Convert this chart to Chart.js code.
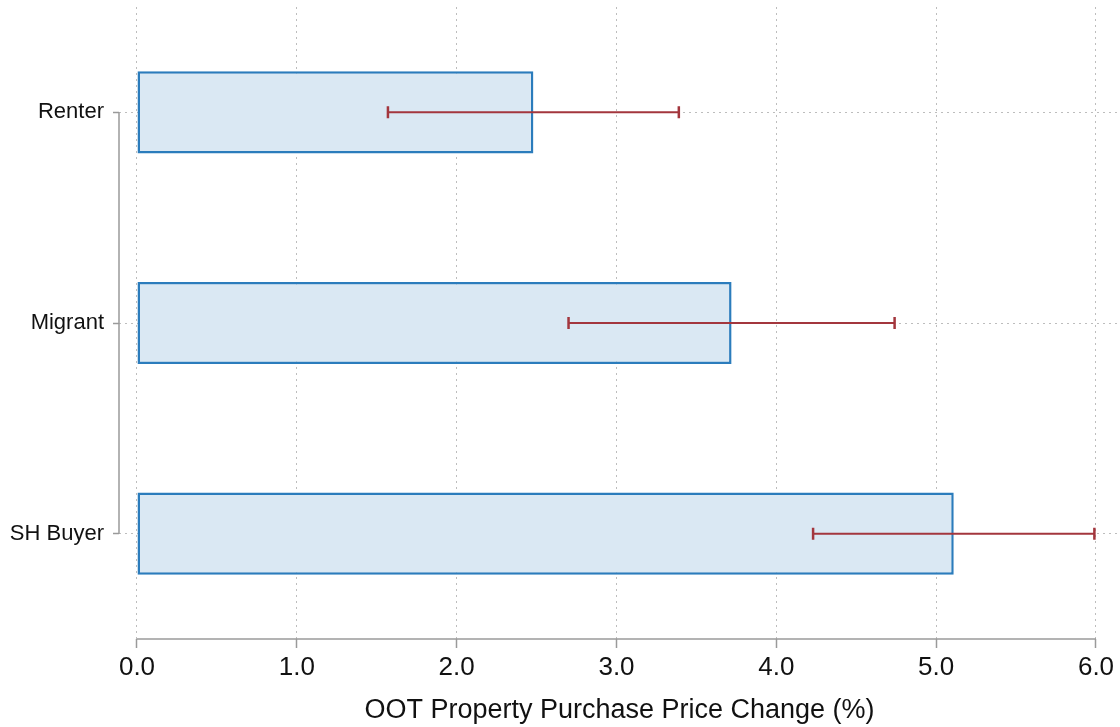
<!DOCTYPE html>
<html lang="en">
<head>
  <meta charset="UTF-8" />
  <title>OOT Property Purchase Price Change</title>
  <script src="https://cdn.jsdelivr.net/npm/chart.js"></script>
  <style>
    html, body { margin: 0; padding: 0; background: #fff; }
    #wrap { width: 1120px; height: 727px; position: relative; }
  </style>
</head>
<body>
  <div id="wrap"><canvas id="chart"></canvas></div>

  <script>
    // Data
    const categories = ['Renter', 'Migrant', 'SH Buyer'];
    const estimates = [2.48, 3.72, 5.11];
    const ciLow = [1.57, 2.70, 4.23];
    const ciHigh = [3.39, 4.74, 5.99];
    const xTicks = [0, 1, 2, 3, 4, 5, 6];
    const xTitle = 'OOT Property Purchase Price Change (%)';

    const FONT = '"Liberation Sans", Arial, Helvetica, sans-serif';
    const axisGrey = '#9a9a9a';

    // whiskers for the confidence intervals
    const errorBars = {
      id: 'errorBars',
      afterDatasetsDraw(chart) {
        const { ctx, scales: { x, y } } = chart;
        ctx.save();
        ctx.strokeStyle = '#a3363d';
        categories.forEach((c, i) => {
          const py = y.getPixelForValue(i);
          const x1 = x.getPixelForValue(ciLow[i]);
          const x2 = x.getPixelForValue(ciHigh[i]);
          ctx.lineWidth = 2;
          ctx.beginPath();
          ctx.moveTo(x1, py); ctx.lineTo(x2, py);
          ctx.stroke();
          ctx.lineWidth = 2.5;
          ctx.beginPath();
          ctx.moveTo(x1, py - 6); ctx.lineTo(x1, py + 6);
          ctx.moveTo(x2, py - 6); ctx.lineTo(x2, py + 6);
          ctx.stroke();
        });
        ctx.restore();
      }
    };

    // Stata-style axis lines that only span the tick range
    const axisLines = {
      id: 'axisLines',
      afterDraw(chart) {
        const { ctx, chartArea, scales: { x, y } } = chart;
        ctx.save();
        ctx.strokeStyle = axisGrey;
        ctx.lineWidth = 1.5;
        ctx.beginPath();
        ctx.moveTo(chartArea.left, y.getPixelForValue(0));
        ctx.lineTo(chartArea.left, y.getPixelForValue(categories.length - 1));
        ctx.moveTo(x.getPixelForValue(xTicks[0]), chartArea.bottom);
        ctx.lineTo(x.getPixelForValue(xTicks[xTicks.length - 1]), chartArea.bottom);
        ctx.stroke();
        ctx.restore();
      }
    };

    new Chart(document.getElementById('chart'), {
      type: 'bar',
      data: {
        labels: categories,
        datasets: [{
          data: estimates,
          backgroundColor: '#dae8f3',
          borderColor: '#2b7cbc',
          borderWidth: 2.5,
          borderSkipped: false,
          barPercentage: 0.39,
          categoryPercentage: 1
        }]
      },
      options: {
        indexAxis: 'y',
        responsive: true,
        maintainAspectRatio: false,
        animation: false,
        layout: { padding: { top: 7, right: 0, bottom: 0, left: 0 } },
        plugins: {
          legend: { display: false },
          tooltip: { enabled: false }
        },
        scales: {
          x: {
            type: 'linear',
            min: -0.1126,
            max: 6.1502,
            afterBuildTicks: (scale) => { scale.ticks = xTicks.map(v => ({ value: v })); },
            afterFit: (scale) => { scale.height = 88; },
            ticks: {
              autoSkip: false,
              padding: 4,
              color: '#111',
              font: { family: FONT, size: 26 },
              callback: (v) => Number(v).toFixed(1)
            },
            grid: {
              color: '#bdbdbd',
              lineWidth: 1,
              tickLength: 9,
              tickColor: axisGrey,
              tickWidth: 1.5,
              tickBorderDash: []
            },
            border: { display: false, dash: [2, 4] },
            title: {
              display: true,
              text: xTitle,
              color: '#111',
              font: { family: FONT, size: 27 },
              padding: { top: 0, bottom: 0 }
            }
          },
          y: {
            type: 'category',
            offset: true,
            afterFit: (scale) => {
              scale.width = 119;
              scale.paddingTop = 0;
              scale.paddingBottom = 0;
            },
            ticks: {
              padding: 9,
              color: '#111',
              font: { family: FONT, size: 22 }
            },
            grid: {
              offset: false,
              color: '#bdbdbd',
              lineWidth: 1,
              tickLength: 6,
              tickColor: axisGrey,
              tickWidth: 1.5,
              tickBorderDash: []
            },
            border: { display: false, dash: [2, 4] }
          }
        }
      },
      plugins: [errorBars, axisLines]
    });
  </script>
</body>
</html>
